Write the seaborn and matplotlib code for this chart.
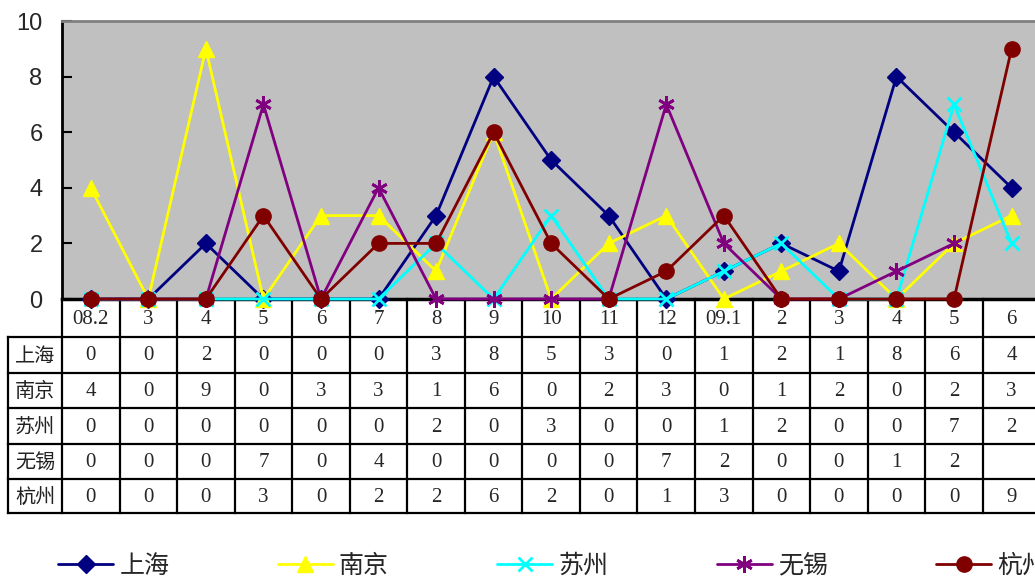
import numpy as np
import pandas as pd
import matplotlib
matplotlib.use("Agg")
import matplotlib.pyplot as plt
import seaborn as sns

# Monthly counts per city (单位：头)
months = ["08.2", "3", "4", "5", "6", "7", "8", "9", "10", "11", "12",
          "09.1", "2", "3", "4", "5", "6"]
cities = ["上海", "南京", "苏州", "无锡", "杭州"]
shanghai = [0, 0, 2, 0, 0, 0, 3, 8, 5, 3, 0, 1, 2, 1, 8, 6, 4]
nanjing = [4, 0, 9, 0, 3, 3, 1, 6, 0, 2, 3, 0, 1, 2, 0, 2, 3]
suzhou = [0, 0, 0, 0, 0, 0, 2, 0, 3, 0, 0, 1, 2, 0, 0, 7, 2]
wuxi = [0, 0, 0, 7, 0, 4, 0, 0, 0, 0, 7, 2, 0, 0, 1, 2, np.nan]
hangzhou = [0, 0, 0, 3, 0, 2, 2, 6, 2, 0, 1, 3, 0, 0, 0, 0, 9]
yticks = [0, 2, 4, 6, 8, 10]

series = [shanghai, nanjing, suzhou, wuxi, hangzhou]
colors = ["#000080", "#FFFF00", "#00FFFF", "#800080", "#800000"]
markers = ["D", "^", "x", (6, 2, 0), "o"]
msizes = [9, 11, 10, 12, 11]

df = pd.DataFrame({
    "idx": np.tile(np.arange(len(months)), len(cities)),
    "city": np.repeat(cities, len(months)),
    "value": np.concatenate([np.asarray(s, dtype=float) for s in series]),
})

sns.set_theme(style="white")
serif_cjk = ["Liberation Serif", "Noto Sans CJK SC"]
plt.rcParams["font.family"] = ["Liberation Sans", "Noto Sans CJK SC", "DejaVu Sans"]

W, H = 1035, 576
fig = plt.figure(figsize=(W / 100, H / 100), dpi=100)
fig.patch.set_facecolor("white")

left_px, top_px, bottom_px = 62, 21, 299
col_w = 57.55
right_px = left_px + col_w * len(months)
ax = fig.add_axes([left_px / W, 1 - bottom_px / H,
                   (right_px - left_px) / W, (bottom_px - top_px) / H])
ax.set_facecolor("#C0C0C0")

for city, color, mk, ms in zip(cities, colors, markers, msizes):
    sub = df[df["city"] == city].dropna()
    line_art = mk == "x" or isinstance(mk, tuple)
    sns.lineplot(data=sub, x="idx", y="value", ax=ax, color=color,
                 marker=mk, markersize=ms, markeredgecolor=color,
                 markerfacecolor=color, markeredgewidth=2 if line_art else 1,
                 linewidth=2, label=city, clip_on=False, zorder=3)

ax.set_xlim(-0.5, len(months) - 0.5)
ax.set_ylim(0, 10)
ax.set_yticks(yticks)
ax.set_yticklabels([str(t) for t in yticks], fontsize=17)
ax.set_xticks([])
ax.set_xlabel("")
ax.set_ylabel("")
ax.tick_params(axis="y", direction="in", length=7, width=1.5, color="black",
               pad=14, left=True)
for side in ("left", "bottom", "top"):
    ax.spines[side].set_visible(True)
ax.spines["left"].set_color("black")
ax.spines["left"].set_linewidth(2)
ax.spines["bottom"].set_color("black")
ax.spines["bottom"].set_linewidth(2.5)
ax.spines["top"].set_color("#808080")
ax.spines["top"].set_linewidth(2)
ax.spines["right"].set_visible(False)
ax.get_legend().remove()

# Data table under the plot
tr = ax.get_xaxis_transform()
def ay(px):
    return (bottom_px - px) / (bottom_px - top_px)

row_px = [299, 337, 373, 408, 444, 479, 513]
lbl_left = -0.5 - (left_px - 8) / col_w
n = len(months)
lk = dict(color="black", lw=1.6, transform=tr, clip_on=False, solid_capstyle="projecting")

# horizontal lines
for r in row_px[1:]:
    ax.plot([lbl_left, n - 0.5], [ay(r)] * 2, **lk)
# vertical lines
for k in range(n + 1):
    ax.plot([k - 0.5, k - 0.5], [ay(row_px[0]), ay(row_px[-1])], **lk)
ax.plot([lbl_left, lbl_left], [ay(row_px[1]), ay(row_px[-1])], **lk)

# header row
for i, m in enumerate(months):
    ax.text(i, ay((row_px[0] + row_px[1]) / 2 + 1), m, transform=tr, ha="center",
            va="center", fontsize=15, family=serif_cjk, clip_on=False)
# data rows
for r, (city, vals) in enumerate(zip(cities, series)):
    yc = ay((row_px[r + 1] + row_px[r + 2]) / 2 + 1)
    ax.text((lbl_left - 0.5) / 2, yc, city, transform=tr, ha="center", va="center",
            fontsize=14.5, family=["Noto Sans CJK SC"], color="#222222", clip_on=False)
    for i, v in enumerate(vals):
        if np.isnan(v):
            continue
        ax.text(i, yc, f"{int(v)}", transform=tr, ha="center", va="center",
                fontsize=15, family=serif_cjk, clip_on=False)

# unit label at the top left
fig.text(55 / W, 1 - 3 / H, "单位：头", ha="left", va="bottom", fontsize=15,
         family=["Noto Sans CJK SC"])

# legend along the bottom
handles, labels = ax.get_legend_handles_labels()
leg = fig.legend(handles, labels, loc="center left", ncol=5,
                 bbox_to_anchor=(58 / W, 1 - 566 / H), frameon=False,
                 prop={"family": "Noto Sans CJK SC", "size": 18},
                 handlelength=2.2, handletextpad=0.25, columnspacing=4.33,
                 borderaxespad=0, borderpad=0)

fig.savefig("out.png", dpi=100, facecolor="white")
